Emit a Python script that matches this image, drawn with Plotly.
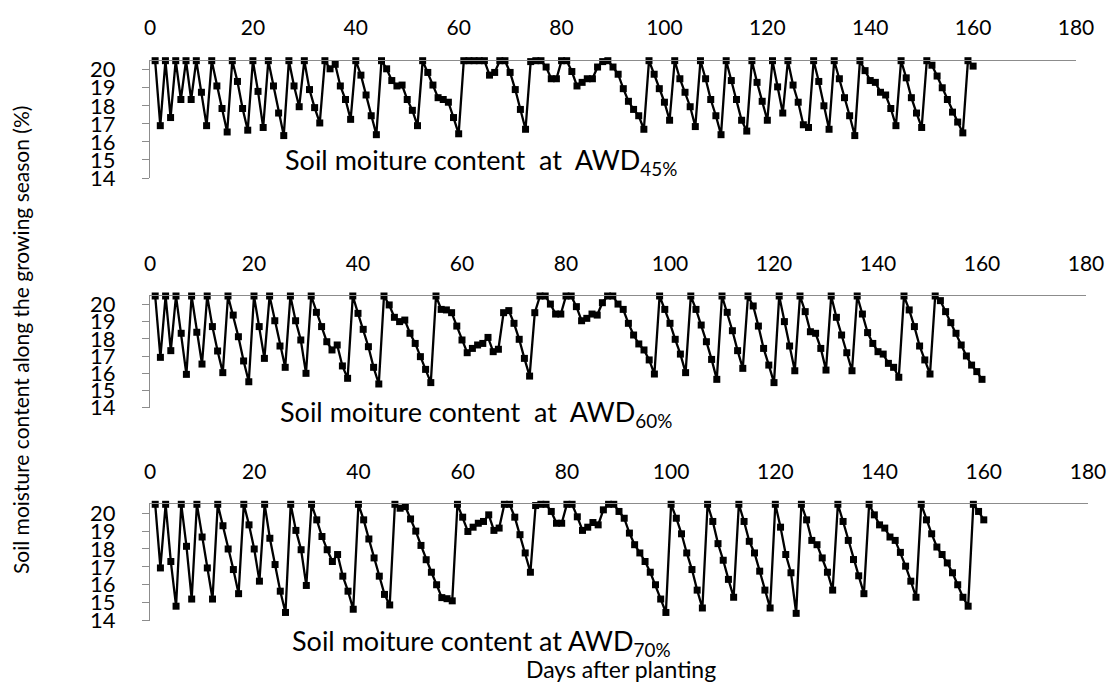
import plotly.graph_objects as go

W, H = 1111, 683

days_45 = list(range(1, 161))
moist_45 = [
    20.5, 16.9, 20.5, 17.35, 20.5, 18.35, 20.5, 18.35, 20.5, 18.75,
    16.9, 20.5, 19.1, 17.85, 16.55, 20.5, 19.35, 17.85, 16.65, 20.5,
    18.8, 16.8, 20.5, 19.1, 17.6, 16.35, 20.5, 19.1, 17.95, 20.5,
    18.9, 17.9, 17.05, 20.5, 20.05, 20.3, 19.1, 18.35, 17.25, 20.5,
    19.7, 18.6, 17.45, 16.4, 20.5, 20.05, 19.4, 19.1, 19.15, 18.35,
    17.75, 16.9, 20.5, 19.85, 19.15, 18.45, 18.35, 18.2, 17.35, 16.45,
    20.5, 20.5, 20.5, 20.5, 20.5, 19.7, 19.85, 20.5, 20.5, 19.85,
    18.9, 17.8, 16.7, 20.45, 20.5, 20.5, 20.15, 19.5, 19.5, 20.5,
    20.5, 19.9, 19.1, 19.3, 19.5, 19.5, 20.15, 20.45, 20.5, 20.15,
    19.75, 18.95, 18.25, 17.8, 17.45, 16.7, 20.5, 19.75, 18.95, 18.2,
    17.2, 20.5, 19.5, 18.75, 17.95, 16.85, 20.5, 19.5, 18.35, 17.45,
    16.4, 20.5, 19.4, 18.35, 17.2, 16.6, 20.5, 19.3, 18.25, 17.2,
    20.5, 19.05, 17.6, 20.5, 19.15, 18.2, 16.95, 16.8, 20.5, 19.35,
    18.0, 16.7, 20.5, 19.5, 18.45, 17.45, 16.35, 20.5, 19.95, 19.4,
    19.3, 18.75, 18.6, 17.85, 16.9, 20.5, 19.55, 18.45, 17.6, 16.8,
    20.5, 20.25, 19.65, 19.0, 18.35, 17.65, 17.1, 16.5, 20.5, 20.2,
]

days_60 = list(range(1, 161))
moist_60 = [
    20.5, 16.93, 20.5, 17.32, 20.5, 18.33, 15.94, 20.5, 18.39, 16.54,
    20.5, 18.72, 17.3, 16.04, 20.5, 19.39, 18.13, 16.72, 15.51, 20.5,
    18.72, 16.87, 20.5, 19.06, 17.59, 16.35, 20.5, 19.06, 17.94, 16.0,
    20.5, 19.55, 18.72, 17.84, 17.36, 17.65, 16.43, 15.71, 20.5, 19.49,
    18.56, 17.55, 16.35, 15.38, 20.5, 19.98, 19.26, 19.01, 19.1,
    18.33, 17.74, 16.97, 16.23, 15.46, 20.5, 19.72, 19.69, 19.53, 18.75,
    17.94, 17.2, 17.45, 17.65, 17.74, 18.09, 17.26, 17.4, 19.53, 19.65,
    18.91, 17.98, 16.87, 15.84, 19.53, 20.5, 20.5, 20.03, 19.45, 19.45,
    20.5, 20.5, 19.88, 19.06, 19.2, 19.45, 19.39, 20.11, 20.5, 20.5,
    20.03, 19.72, 18.91, 18.23, 17.71, 17.36, 16.78, 15.96, 20.5, 19.72,
    18.91, 17.98, 17.12, 16.04, 20.5, 19.72, 18.81, 17.84, 16.81, 15.65,
    20.5, 19.55, 18.48, 17.32, 16.29, 20.5, 19.92, 18.75, 17.45, 16.48,
    15.46, 20.5, 19.01, 17.59, 16.15, 20.5, 19.59, 18.42, 18.33, 17.45,
    16.19, 20.5, 19.26, 18.23, 17.2, 16.15, 20.5, 19.45, 18.37, 17.74,
    17.26, 17.12, 16.58, 16.35, 15.77, 20.5, 19.69, 18.72, 17.59, 16.78,
    15.96, 20.5, 20.23, 19.59, 18.95, 18.33, 17.65, 17.01, 16.48, 16.1,
    15.65,
]

days_70 = list(range(1, 161))
moist_70 = [
    20.5, 16.94, 20.5, 17.3, 14.8, 20.5, 18.15, 15.2, 20.5, 18.67,
    16.94, 15.2, 20.5, 19.3, 18.0, 16.85, 15.5, 20.5, 19.35, 18.0,
    16.2, 20.5, 18.6, 17.13, 15.64, 14.45, 20.5, 19.04, 17.96, 15.96,
    20.5, 19.63, 18.7, 17.96, 17.3, 17.69, 16.48, 15.64, 14.63, 20.5,
    19.63, 18.56, 17.5, 16.48, 15.46, 14.87, 20.5, 20.28, 20.37, 19.68,
    19.0, 18.2, 17.4, 16.7, 16.0, 15.28, 15.22, 15.1, 20.5, 19.78,
    18.98, 19.22, 19.44, 19.54, 19.91, 19.04, 19.17, 20.5, 20.5, 19.78,
    18.8, 17.78, 16.7, 20.43, 20.5, 20.5, 20.1, 19.44, 19.44, 20.5,
    20.5, 19.8, 19.04, 19.22, 19.48, 19.35, 20.19, 20.5, 20.5, 20.1,
    19.72, 18.89, 18.24, 17.78, 17.3, 16.7, 16.0, 15.2, 14.45, 20.5,
    19.72, 18.85, 17.78, 16.85, 15.7, 14.7, 20.5, 19.54, 18.3, 17.37,
    16.3, 15.3, 20.5, 19.54, 18.43, 17.78, 16.76, 15.7, 14.7, 20.5,
    19.22, 17.69, 16.67, 14.4, 20.5, 19.63, 18.48, 18.24, 17.5, 16.7,
    15.7, 20.5, 19.54, 18.48, 17.41, 16.5, 15.5, 20.5, 19.91, 19.35,
    19.17, 18.67, 18.48, 17.81, 17.04, 16.2, 15.3, 20.5, 19.63, 18.85,
    18.11, 17.69, 17.22, 16.67, 16.0, 15.3, 14.8, 20.5, 20.1, 19.63,
]

x_ticks = list(range(0, 181, 20))
y_ticks = list(range(14, 21))
panel_titles = [
    "Soil moiture content  at  AWD<sub>45%</sub>",
    "Soil moiture content  at  AWD<sub>60%</sub>",
    "Soil moiture content at AWD<sub>70%</sub>",
]
y_title = "Soil moisture content along the growing season (%)"
x_title = "Days after planting"

FONT = "Lato"
GRAY = "#8c8c8c"

# pixel boxes of the three plot areas: (left, right, top, bottom)
boxes = [(150, 1076, 60.7, 178.0), (150, 1086, 296.0, 407.7), (150, 1088, 504.3, 620.5)]
series = [(days_45, moist_45), (days_60, moist_60), (days_70, moist_70)]

fig = go.Figure()
layout = dict(
    width=W, height=H, margin=dict(l=0, r=0, t=0, b=0, autoexpand=False),
    paper_bgcolor="white", plot_bgcolor="white", showlegend=False,
    font=dict(family=FONT, color="black"),
)
for i, ((l, r, t, b), (xs, ys)) in enumerate(zip(boxes, series)):
    n = "" if i == 0 else str(i + 1)
    fig.add_trace(go.Scatter(
        x=xs, y=ys, mode="lines+markers", xaxis="x" + n, yaxis="y" + n,
        line=dict(color="black", width=2.3),
        marker=dict(symbol="square", size=7, color="black"),
        cliponaxis=False,
    ))
    layout["xaxis" + n] = dict(
        domain=[l / W, r / W], anchor="y" + n, side="top", range=[0, 180],
        tickvals=x_ticks, ticks="", showline=True, linecolor=GRAY, linewidth=1,
        showgrid=False, zeroline=False, tickfont=dict(size=21, family=FONT),
        ticklabelstandoff=16, automargin=False,
    )
    layout["yaxis" + n] = dict(
        domain=[1 - b / H, 1 - t / H], anchor="x" + n, range=[14, 20.5],
        tickvals=y_ticks, ticks="outside", ticklen=7, tickcolor=GRAY,
        showline=True, linecolor=GRAY, linewidth=1, showgrid=False,
        zeroline=False, tickfont=dict(size=22, family=FONT),
        ticklabelstandoff=22, automargin=False,
    )

fig.update_layout(**layout)

title_pos = [(283, 161), (278, 413), (290, 642)]
for txt, (px, py) in zip(panel_titles, title_pos):
    fig.add_annotation(text=txt, xref="paper", yref="paper", x=px / W, y=1 - py / H,
                       xanchor="left", yanchor="middle", showarrow=False,
                       font=dict(size=27, family=FONT, color="black"))

fig.add_annotation(text=x_title, xref="paper", yref="paper", x=621 / W, y=1 - 669 / H,
                   xanchor="center", yanchor="middle", showarrow=False,
                   font=dict(size=23, family=FONT, color="black"))
fig.add_annotation(text=y_title, xref="paper", yref="paper", x=20 / W, y=1 - 340 / H,
                   xanchor="center", yanchor="middle", showarrow=False, textangle=-90,
                   font=dict(size=21, family=FONT, color="black"))

fig.write_html(
    "out.html",
    config={"displayModeBar": False},
    post_script="document.body.style.margin='0';document.body.style.padding='0';"
                "document.documentElement.style.overflow='hidden';",
)
